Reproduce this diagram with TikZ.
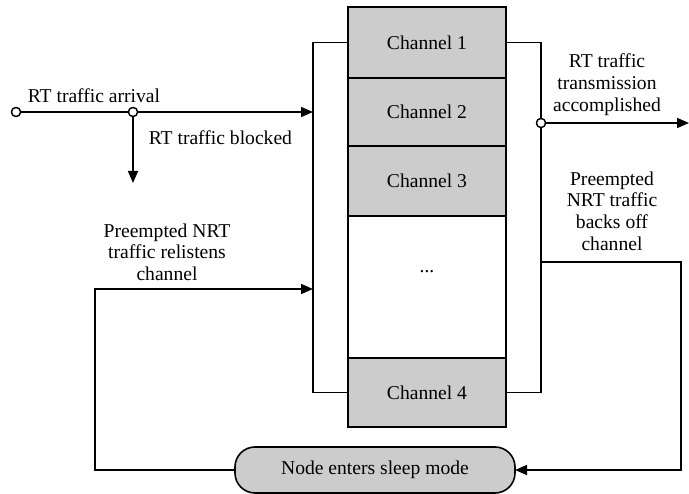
\documentclass[tikz,border=0pt]{standalone}
\usepackage{fontspec}
\setmainfont{Liberation Serif}
\usetikzlibrary{arrows.meta}
\definecolor{chgray}{RGB}{204,204,204}
\begin{document}
\begin{tikzpicture}[x=1pt,y=-1pt,
  line width=1.6pt,
  every node/.style={font=\rmfamily\fontsize{19.6}{21.7}\selectfont},
  chan/.style={draw, fill=chgray, minimum width=158, inner sep=0, outer sep=0},
  emptychan/.style={draw, fill=white, minimum width=158, inner sep=0, outer sep=0},
  port/.style={circle, draw, fill=white, line width=1.3pt, minimum size=9, inner sep=0},
  lbl/.style={align=center, inner sep=0},
  flow/.style={-{Triangle[length=12pt,width=10pt]}},
  sleepbox/.style={draw, fill=chgray, rounded corners=20, minimum width=280, minimum height=46, inner sep=0, outer sep=0}
]
\useasboundingbox (0,0) rectangle (689,494);

% channel stack
\node[chan, minimum height=71] (ch1) at (427,42.5) {Channel 1};
\node[chan, minimum height=68] (ch2) at (427,112) {Channel 2};
\node[chan, minimum height=70] (ch3) at (427,181) {Channel 3};
\node[emptychan, minimum height=142] (chx) at (427,287) {};
\node[lbl] (dots) at (427,272) {...};
\node[chan, minimum height=69] (ch4) at (427,392.5) {Channel 4};

% sleep state
\node[sleepbox] (sleep) at (375,470) {Node enters sleep mode};

% junction points
\coordinate (lbus) at (313,112);
\coordinate (lret) at (313,289);
\coordinate (blk) at (133,183);
\coordinate (rbus) at (541,262);
\coordinate (rcorner) at (681,262);
\coordinate (lcorner) at (95,470);
\coordinate (out) at (689,123);

% left and right collectors
\draw (ch1.west) -- ++(-35,0) |- (ch4.west);
\draw (ch1.east) -- ++(35,0) |- (ch4.east);

% ports
\node[port] (src) at (16,112) {};
\node[port] (jb) at (133,112) {};
\node[port] (jt) at (541,123) {};

% RT traffic
\draw[flow] (src) -- (lbus);
\draw[flow] (jb) -- (blk);
\draw[flow] (jt) -- (out);

% NRT back-off loop
\draw[flow] (rbus) -- (rcorner) |- (sleep.east);
\draw[flow] (sleep.west) -- (lcorner) |- (lret);

% redraw ports on top of lines
\node[port] at (src) {};
\node[port] at (jb) {};
\node[port] at (jt) {};

% labels
\node[lbl, anchor=base west] (la) at (27,103) {RT traffic arrival};
\node[lbl, anchor=base west] (lb) at (148,145) {RT traffic blocked};
\node[lbl] (lt) at (607,84.5) {RT traffic\\transmission\\accomplished};
\node[lbl] (lo) at (612,211) {Preempted\\NRT traffic\\backs off\\channel};
\node[lbl] (lr) at (167,252) {Preempted NRT\\traffic relistens\\channel};
\end{tikzpicture}
\end{document}
